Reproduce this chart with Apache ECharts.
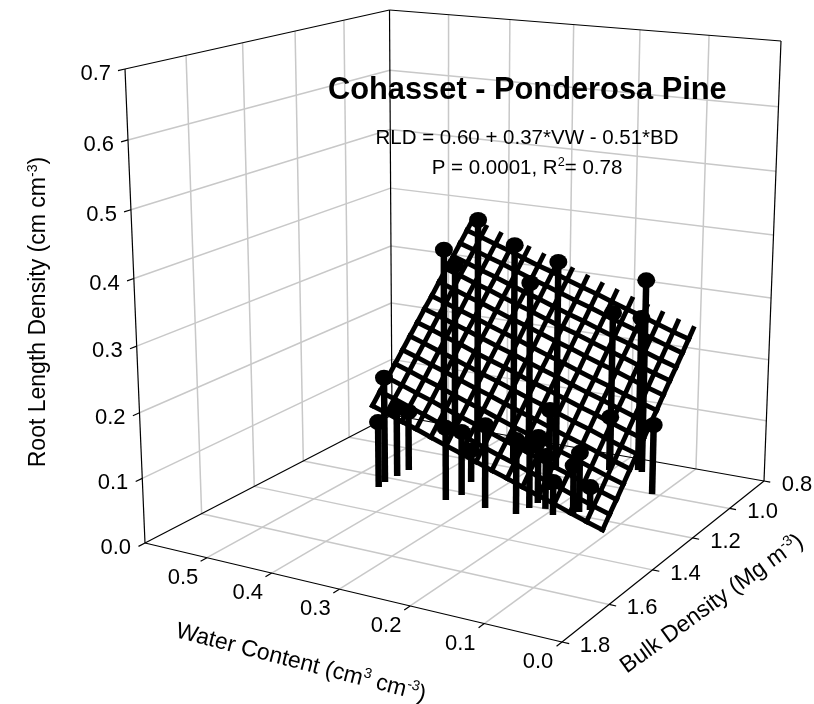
<!DOCTYPE html>
<html><head><meta charset="utf-8"><style>html,body{margin:0;padding:0;background:#fff}#c{width:814px;height:704px}</style>
<script src="https://cdn.jsdelivr.net/npm/echarts@6/dist/echarts.min.js"></script></head>
<body><div id="c"></div><script>
// axis ticks
const vwTicks=[0,0.1,0.2,0.3,0.4,0.5,0.6];
const vwLabels=['0.0','0.1','0.2','0.3','0.4','0.5'];
const bdTicks=[0.8,1.0,1.2,1.4,1.6,1.8];
const bdLabels=['0.8','1.0','1.2','1.4','1.6','1.8'];
const zTicks=[0,0.1,0.2,0.3,0.4,0.5,0.6,0.7];
const zLabels=['0.0','0.1','0.2','0.3','0.4','0.5','0.6','0.7'];
// observations
const obsVW=[.421,.506,.468,.340,.341,.268,.220,.160,.168,.451,.448,.449,.448,.111,.342,.333,.281,.347,.229,.239,.203,.166,.191,.157,.235,.230,.210,.167];
const obsBD=[.885,.805,.859,.951,.870,.964,.841,.880,.872,1.228,1.263,1.180,1.131,1.001,1.260,1.215,1.261,1.131,1.176,1.090,.904,1.181,1.225,1.158,1.259,1.213,1.200,1.207];
const obsRLD=[.380,.307,.294,.359,.284,.344,.248,.317,.253,.172,.107,.113,.098,.113,.117,.103,.133,.053,.107,.131,.089,.095,.053,.037,.118,.098,.085,.080];
// fitted surface
const meshVW=[.11,.133,.157,.18,.203,.227,.25,.273,.297,.32,.343,.367,.39,.413,.437,.46];
const meshBD=[.8,.825,.858,.891,.924,.957,.991,1.024,1.057,1.09,1.123,1.156,1.189,1.222,1.255];
const meshRLD=[
[.233,.241,.250,.259,.267,.276,.284,.293,.302,.310,.319,.328,.336,.345,.354,.362],
[.220,.228,.237,.246,.254,.263,.272,.280,.289,.298,.306,.315,.324,.332,.341,.349],
[.203,.211,.220,.229,.237,.246,.255,.263,.272,.281,.289,.298,.307,.315,.324,.332],
[.186,.194,.203,.212,.220,.229,.238,.246,.255,.264,.272,.281,.290,.298,.307,.315],
[.170,.178,.187,.196,.204,.213,.222,.230,.239,.248,.256,.265,.274,.282,.291,.299],
[.153,.161,.170,.179,.187,.196,.205,.213,.222,.231,.239,.248,.257,.265,.274,.282],
[.135,.143,.152,.161,.169,.178,.187,.195,.204,.213,.221,.230,.239,.247,.256,.264],
[.119,.127,.136,.145,.153,.162,.171,.179,.188,.197,.205,.214,.223,.231,.240,.248],
[.102,.110,.119,.128,.136,.145,.154,.162,.171,.180,.188,.197,.206,.214,.223,.231],
[.085,.093,.102,.111,.119,.128,.137,.145,.154,.163,.171,.180,.189,.197,.206,.214],
[.068,.076,.085,.094,.102,.111,.120,.128,.137,.146,.154,.163,.172,.180,.189,.197],
[.051,.059,.068,.077,.085,.094,.103,.111,.120,.129,.137,.146,.155,.163,.172,.180],
[.034,.042,.051,.060,.068,.077,.086,.094,.103,.112,.120,.129,.138,.146,.155,.163],
[.018,.026,.035,.044,.052,.061,.070,.078,.087,.096,.104,.113,.122,.130,.139,.147],
[.001,.009,.018,.027,.035,.044,.053,.061,.070,.079,.087,.096,.105,.113,.122,.130]];
const chartTitle='Cohasset - Ponderosa Pine';
const eqLine1='RLD = 0.60 + 0.37*VW - 0.51*BD';
const eqLine2='P = 0.0001, R{sup|2}= 0.78';
const zTitle='Root Length Density (cm cm{sup|-3})';
const vwTitle='Water Content (cm{sup|3} cm{sup|-3})';
const bdTitle='Bulk Density (Mg m{sup|-3})';

const VWMAX=.6,BDMIN=.8,BDMAX=1.8,ZMAX=.7;
// perspective camera of the box
function project(vw,bd,z){
  const s=vw/VWMAX,t=bd-BDMIN,w=z/ZMAX;
  const den=.11957*s-.17874*t+1-.05*w;
  return [(-325.13*s-302.45*t+764+(-22.05-.22*s-2.8*t)*w)/den,
          (-16.38*s+46.25*t+481+(-442.05-11.85*s+4.5*t)*w)/den];
}
const seg=(a,b)=>project(...a).concat(project(...b));
const grid=[],edges=[],stems=[],mesh=[];
vwTicks.slice(1,6).forEach(v=>{grid.push(seg([v,BDMIN,0],[v,BDMAX,0]));grid.push(seg([v,BDMIN,0],[v,BDMIN,ZMAX]));});
bdTicks.slice(1,5).forEach(b=>{grid.push(seg([0,b,0],[VWMAX,b,0]));grid.push(seg([VWMAX,b,0],[VWMAX,b,ZMAX]));});
zTicks.slice(1,7).forEach(z=>{grid.push(seg([VWMAX,BDMIN,z],[VWMAX,BDMAX,z]));grid.push(seg([0,BDMIN,z],[VWMAX,BDMIN,z]));});
// box edges
edges.push(seg([VWMAX,BDMAX,0],[0,BDMAX,0]),seg([0,BDMAX,0],[0,BDMIN,0]),seg([0,BDMIN,0],[VWMAX,BDMIN,0]),seg([VWMAX,BDMIN,0],[VWMAX,BDMAX,0]));
edges.push(seg([VWMAX,BDMAX,0],[VWMAX,BDMAX,ZMAX]),seg([VWMAX,BDMIN,0],[VWMAX,BDMIN,ZMAX]),seg([0,BDMIN,0],[0,BDMIN,ZMAX]));
edges.push(seg([VWMAX,BDMAX,ZMAX],[VWMAX,BDMIN,ZMAX]),seg([VWMAX,BDMIN,ZMAX],[0,BDMIN,ZMAX]));
// tick marks
vwTicks.slice(0,6).forEach(v=>edges.push(seg([v,BDMAX,0],[v,BDMAX+.022,0])));
bdTicks.forEach(b=>edges.push(seg([0,b,0],[-.009,b,0])));
zTicks.forEach(z=>edges.push(seg([VWMAX,BDMAX,z],[VWMAX,BDMAX+.022,z])));
// drop lines
obsVW.forEach((v,i)=>stems.push(seg([v,obsBD[i],0],[v,obsBD[i],obsRLD[i]])));
// surface mesh
meshBD.forEach((b,j)=>meshVW.forEach((v,i)=>{
  if(j+1<meshBD.length) mesh.push(seg([v,b,meshRLD[j][i]],[v,meshBD[j+1],meshRLD[j+1][i]]));
  if(j>0&&i+1<meshVW.length) mesh.push(seg([v,b,meshRLD[j][i]],[meshVW[i+1],b,meshRLD[j][i+1]]));
}));
const points=obsVW.map((v,i)=>project(v,obsBD[i],obsRLD[i]));

function lineSeries(data,color,width,cap){return {type:'custom',coordinateSystem:'cartesian2d',silent:true,data,
  renderItem:(p,api)=>{const a=api.coord([api.value(0),api.value(1)]),b=api.coord([api.value(2),api.value(3)]);
    return {type:'line',shape:{x1:a[0],y1:a[1],x2:b[0],y2:b[1]},style:{stroke:color,lineWidth:width,lineCap:cap||'butt',fill:null}};}};}

const FONT='"Liberation Sans",Arial,sans-serif';
const texts=[];
zTicks.forEach((z,i)=>{const p=project(VWMAX,BDMAX,z);texts.push({x:p[0]-14,y:p[1]+5,t:zLabels[i],size:22,align:'right'});});
vwLabels.forEach((l,i)=>{const p=project(vwTicks[i],BDMAX,0);texts.push({x:p[0]-24,y:p[1]+20,t:l,size:22,align:'center'});});
bdLabels.forEach((l,i)=>{const p=project(0,bdTicks[i],0);texts.push({x:p[0]+33,y:p[1]+4,t:l,size:22,align:'center'});});
texts.push({x:527,y:138,t:eqLine1,size:20.5,align:'center'},{x:527,y:168,t:eqLine2,size:20.5,align:'center'});
texts.push({x:39,y:312,t:zTitle,size:23,align:'center',rot:90},{x:301,y:663,t:vwTitle,size:23,align:'center',rot:-14.5},{x:712,y:604,t:bdTitle,size:23,align:'center',rot:36});

const textSeries={type:'custom',coordinateSystem:'cartesian2d',silent:true,z:10,
  data:texts.map((d,i)=>[d.x,d.y,i]),
  renderItem:(p,api)=>{const d=texts[api.value(2)],c=api.coord([api.value(0),api.value(1)]);
    return {type:'text',x:c[0],y:c[1],rotation:(d.rot||0)*Math.PI/180,
      style:{text:d.t,fill:'#000',fontFamily:FONT,fontSize:d.size,align:d.align,verticalAlign:'middle',
        rich:{sup:{fontSize:d.size*.62,fontFamily:FONT,fill:'#000',verticalAlign:'top',lineHeight:d.size*1.15}}}};}};

const chart=echarts.init(document.getElementById('c'),null,{renderer:'canvas'});
chart.setOption({animation:false,backgroundColor:'#fff',
  title:{text:chartTitle,left:328,top:75,padding:0,textStyle:{fontFamily:FONT,fontWeight:'bold',fontSize:30.8,color:'#000'}},
  grid:{left:0,right:0,top:0,bottom:0},
  xAxis:{type:'value',min:0,max:814,show:false},
  yAxis:{type:'value',min:0,max:704,inverse:true,show:false},
  series:[lineSeries(grid,'#c8c8c8',1.5),lineSeries(edges,'#000',1.2),lineSeries(mesh,'#000',4.8,'square'),lineSeries(stems,'#000',6.5),
    {type:'scatter',data:points,symbol:'circle',symbolSize:[18,16],itemStyle:{color:'#000',opacity:1},silent:true},
    textSeries]});
</script></body></html>
